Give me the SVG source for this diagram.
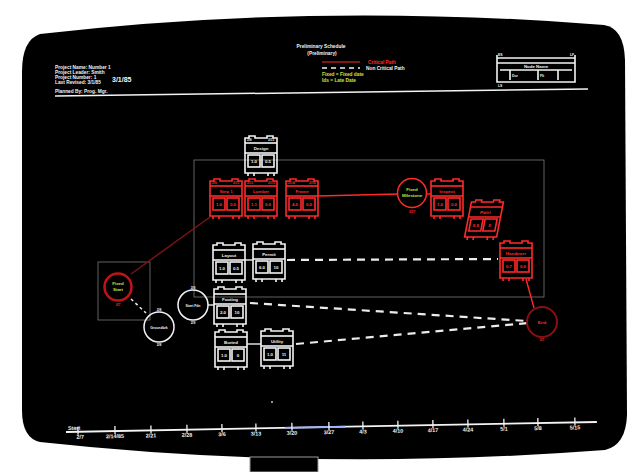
<svg xmlns="http://www.w3.org/2000/svg" width="628" height="472" viewBox="0 0 628 472">
<style>
text{font-family:"Liberation Sans",Arial,sans-serif;font-weight:bold}
.w{fill:#f4f4f4}
.r{fill:#ff2a2a}
.g{fill:#c8e83c}
.t{font-size:4.8px}
.m{font-size:4.4px}
.s{font-size:3.4px}
.frm{fill:none;stroke:currentColor;stroke-width:1.6}
.dash{fill:none;stroke:#ececec;stroke-width:2.2;stroke-dasharray:8 6}
.grey{fill:none;stroke:#8a8a8a;stroke-width:0.7}
</style>
<defs>
<g id="box" class="frm">
 <path d="M0,3 H4 V1 H10 V3 H22 V1 H28 V3 H32 V38 H0 Z"/>
 <line x1="0" y1="8" x2="32" y2="8"/>
 <line x1="0" y1="18" x2="32" y2="18"/>
 <rect x="3" y="20" width="12" height="12"/>
 <rect x="17" y="20" width="12" height="12"/>
 <path d="M3,38 V41 M9,38 V41 M23,38 V41 M29,38 V41"/>
</g>
</defs>

<rect width="628" height="472" fill="#ffffff"/>
<path d="M40,34 Q314,2 604,25 Q624,28 625,60 L627,415 Q626,445 605,450 Q314,472 40,442 Q22,438 22,410 L22,72 Q22,40 40,34 Z" fill="#000"/>
<rect x="250" y="457" width="68" height="15" fill="#000" stroke="#9a9a9a" stroke-width="1"/>

<g id="header">
 <text class="w t" x="55" y="69">Project Name: Number 1</text>
 <text class="w t" x="55" y="74">Project Leader: Smith</text>
 <text class="w t" x="55" y="79">Project Number: 1</text>
 <text class="w t" x="55" y="84">Last Revised: 3/1/85</text>
 <text class="w" x="112" y="82" font-size="7">3/1/85</text>
 <text class="w t" x="55" y="93">Planned By: Prog. Mgr.</text>
 <line x1="55" y1="96" x2="588" y2="89" stroke="#f4f4f4" stroke-width="1.5"/>
 <text class="w t" x="321" y="48" text-anchor="middle">Preliminary Schedule</text>
 <text class="w t" x="322" y="55" text-anchor="middle">(Preliminary)</text>
 <line x1="322" y1="62" x2="360" y2="62" stroke="#ff2a2a" stroke-width="1.2"/>
 <text class="r t" x="368" y="63.5">Critical Path</text>
 <line x1="322" y1="68" x2="360" y2="68" stroke="#f4f4f4" stroke-width="1.5" stroke-dasharray="5 4"/>
 <text class="w t" x="366" y="70">Non Critical Path</text>
 <text class="g t" x="322" y="76">Fixed = Fixed date</text>
 <text class="g t" x="322" y="82">Ids = Late Date</text>
</g>

<g id="key" color="#f4f4f4">
 <path class="frm" d="M497,58 H575 V82 H497 Z M497,63 H575 M500,70 H572 M510,70 V80 M538,70 V80 M558,70 V80 M497,55 V60 M575,55 V60"/>
 <text class="w s" x="498" y="56">ES</text>
 <text class="w s" x="570" y="56">LF</text>
 <text class="w m" x="536" y="68" text-anchor="middle">Node Name</text>
 <text class="w s" x="512" y="77">Dur</text>
 <text class="w s" x="540" y="77">Flt</text>
 <text class="w s" x="498" y="87">LS</text>
</g>

<rect class="grey" x="194" y="160" width="350" height="137"/>
<rect class="grey" x="98" y="262" width="52" height="58"/>

<g id="connectors">
 <line x1="131" y1="274" x2="210" y2="217" stroke="#7a1414" stroke-width="1.5"/>
 <line x1="131" y1="299" x2="146" y2="313" stroke="#ececec" stroke-width="1.5" stroke-dasharray="3 3"/>
 <line x1="208" y1="305" x2="214" y2="305" stroke="#ececec" stroke-width="1.4"/>
 <line x1="318" y1="196" x2="398" y2="194" stroke="#ff2a2a" stroke-width="1.4"/>
 <line x1="426" y1="194" x2="431" y2="194" stroke="#ff2a2a" stroke-width="1.4"/>
 <line x1="526" y1="279" x2="534" y2="308" stroke="#ff2a2a" stroke-width="1.4"/>
 <line x1="247" y1="344" x2="261" y2="344" stroke="#ececec" stroke-width="1.4"/>
 <line x1="245" y1="260" x2="253" y2="260" stroke="#ececec" stroke-width="1.4"/>
 <line class="dash" x1="287" y1="260" x2="498" y2="259"/>
 <line class="dash" x1="250" y1="303" x2="527" y2="321"/>
 <line class="dash" x1="296" y1="344" x2="528" y2="323"/>
</g>

<g id="n-design" transform="translate(245,135)" color="#f4f4f4">
 <use href="#box"/>
 <text class="w s" x="2" y="6">2/9</text><text class="w s" x="23" y="6">2/11</text>
 <text class="w m" x="16" y="15" text-anchor="middle">Design</text>
 <text class="w m" x="9" y="28" text-anchor="middle">1.0</text><text class="w m" x="23" y="28" text-anchor="middle">0.5</text>
</g>
<g id="n-r1" transform="translate(210,178)" color="#ff2a2a">
 <use href="#box"/>
 <text class="r s" x="2" y="6">2/9</text><text class="r s" x="23" y="6">2/11</text>
 <text class="r m" x="16" y="15" text-anchor="middle">Step 1</text>
 <text class="r m" x="9" y="28" text-anchor="middle">1.0</text><text class="r m" x="23" y="28" text-anchor="middle">0.0</text>
</g>
<g id="n-r2" transform="translate(245,178)" color="#ff2a2a">
 <use href="#box"/>
 <text class="r s" x="2" y="6">2/11</text><text class="r s" x="23" y="6">2/13</text>
 <text class="r m" x="16" y="15" text-anchor="middle">Lumber</text>
 <text class="r m" x="9" y="28" text-anchor="middle">1.1</text><text class="r m" x="23" y="28" text-anchor="middle">0.0</text>
</g>
<g id="n-r3" transform="translate(286,178)" color="#ff2a2a">
 <use href="#box"/>
 <text class="r s" x="2" y="6">2/14</text><text class="r s" x="23" y="6">2/16</text>
 <text class="r m" x="16" y="15" text-anchor="middle">Frame</text>
 <text class="r m" x="9" y="28" text-anchor="middle">4.0</text><text class="r m" x="23" y="28" text-anchor="middle">0.0</text>
</g>
<g id="n-fixed-ms">
 <circle cx="412" cy="193" r="14.5" fill="none" stroke="#ff2a2a" stroke-width="1.5"/>
 <text class="g m" x="412" y="191" text-anchor="middle">Fixed</text>
 <text class="g m" x="412" y="197" text-anchor="middle">Milestone</text>
 <text class="r s" x="412" y="213" text-anchor="middle">3/27</text>
</g>
<g id="n-r4" transform="translate(431,178)" color="#ff2a2a">
 <use href="#box"/>
 <text class="r m" x="16" y="15" text-anchor="middle">Inspect</text>
 <text class="r m" x="9" y="28" text-anchor="middle">1.0</text><text class="r m" x="23" y="28" text-anchor="middle">0.0</text>
</g>
<g id="n-r5" transform="translate(472,199) skewX(-11)" color="#ff2a2a">
 <use href="#box"/>
 <text class="r m" x="16" y="15" text-anchor="middle">Paint</text>
 <text class="r m" x="9" y="28" text-anchor="middle">0.5</text><text class="r m" x="23" y="28" text-anchor="middle">0</text>
</g>
<g id="n-r6" transform="translate(500,240)" color="#ff2a2a">
 <use href="#box"/>
 <text class="r m" x="16" y="15" text-anchor="middle">Handover</text>
 <text class="r m" x="9" y="28" text-anchor="middle">0.7</text><text class="r m" x="23" y="28" text-anchor="middle">0.0</text>
</g>
<g id="n-end">
 <circle cx="542" cy="322" r="15" fill="none" stroke="#8a1010" stroke-width="2"/>
 <text class="r m" x="542" y="324" text-anchor="middle">End</text>
 <text class="r s" x="542" y="341" text-anchor="middle">5/1</text>
</g>
<g id="n-a" transform="translate(213,242)" color="#f4f4f4">
 <use href="#box"/>
 <text class="w m" x="16" y="15" text-anchor="middle">Layout</text>
 <text class="w m" x="9" y="28" text-anchor="middle">1.0</text><text class="w m" x="23" y="28" text-anchor="middle">0.5</text>
</g>
<g id="n-b" transform="translate(253,241)" color="#f4f4f4">
 <use href="#box"/>
 <text class="w m" x="16" y="15" text-anchor="middle">Permit</text>
 <text class="w m" x="9" y="28" text-anchor="middle">6.0</text><text class="w m" x="23" y="28" text-anchor="middle">10</text>
</g>
<g id="n-c" transform="translate(214,286)" color="#f4f4f4">
 <use href="#box"/>
 <text class="w m" x="16" y="15" text-anchor="middle">Footing</text>
 <text class="w m" x="9" y="28" text-anchor="middle">2.0</text><text class="w m" x="23" y="28" text-anchor="middle">10</text>
</g>
<g id="n-d" transform="translate(215,329)" color="#f4f4f4">
 <use href="#box"/>
 <text class="w m" x="16" y="15" text-anchor="middle">Buried</text>
 <text class="w m" x="9" y="28" text-anchor="middle">1.0</text><text class="w m" x="23" y="28" text-anchor="middle">0</text>
</g>
<g id="n-e" transform="translate(261,328)" color="#f4f4f4">
 <use href="#box"/>
 <text class="w m" x="16" y="15" text-anchor="middle">Utility</text>
 <text class="w m" x="9" y="28" text-anchor="middle">1.0</text><text class="w m" x="23" y="28" text-anchor="middle">11</text>
</g>
<g id="n-start">
 <circle cx="118" cy="287" r="13.5" fill="none" stroke="#c01414" stroke-width="2.5"/>
 <text class="g m" x="118" y="285" text-anchor="middle">Fixed</text>
 <text class="g m" x="118" y="291" text-anchor="middle">Start</text>
 <text class="r s" x="118" y="306" text-anchor="middle">2/7</text>
</g>
<g id="n-m2">
 <circle cx="159" cy="327" r="15" fill="none" stroke="#f4f4f4" stroke-width="1.5"/>
 <text class="w s" x="159" y="329" text-anchor="middle">Groundbrk</text>
 <text class="w s" x="159" y="311" text-anchor="middle">2/8</text>
 <text class="w s" x="159" y="346" text-anchor="middle">2/8</text>
</g>
<g id="n-m1">
 <circle cx="193" cy="305" r="15" fill="none" stroke="#f4f4f4" stroke-width="1.5"/>
 <text class="w s" x="193" y="307" text-anchor="middle">Start Fdn</text>
 <text class="w s" x="193" y="289" text-anchor="middle">2/9</text>
 <text class="w s" x="193" y="324" text-anchor="middle">2/9</text>
</g>

<circle cx="272" cy="402" r="0.9" fill="#ddd"/>

<g id="timeline" transform="rotate(-1.08 66 432)">
 <line x1="66" y1="432" x2="597" y2="432" stroke="#f4f4f4" stroke-width="1.8"/>
 <line x1="285" y1="432" x2="345" y2="432" stroke="#9ab4ff" stroke-width="1.8"/>
 <g stroke="#f4f4f4" stroke-width="1.3">
  <path d="M78,427V435 M115,427V435 M151,427V435 M187,427V435 M222,427V435 M256,427V435 M292,427V435 M329,427V435 M363,427V435 M398,427V435 M433,427V435 M468,427V435 M504,427V435 M538,427V435 M575,427V435"/>
 </g>
 <g class="w" font-size="5.4px" text-anchor="middle">
  <text x="68" y="430" text-anchor="start">Start</text>
  <text x="80" y="439">2/7</text>
  <text x="115" y="439">2/14/85</text>
  <text x="151" y="439">2/21</text>
  <text x="187" y="439">2/28</text>
  <text x="222" y="439">3/6</text>
  <text x="256" y="439">3/13</text>
  <text x="292" y="439">3/20</text>
  <text x="329" y="439">3/27</text>
  <text x="363" y="439">4/3</text>
  <text x="398" y="439">4/10</text>
  <text x="433" y="439">4/17</text>
  <text x="468" y="439">4/24</text>
  <text x="504" y="439">5/1</text>
  <text x="538" y="439">5/8</text>
  <text x="575" y="439">5/15</text>
 </g>
</g>
</svg>
